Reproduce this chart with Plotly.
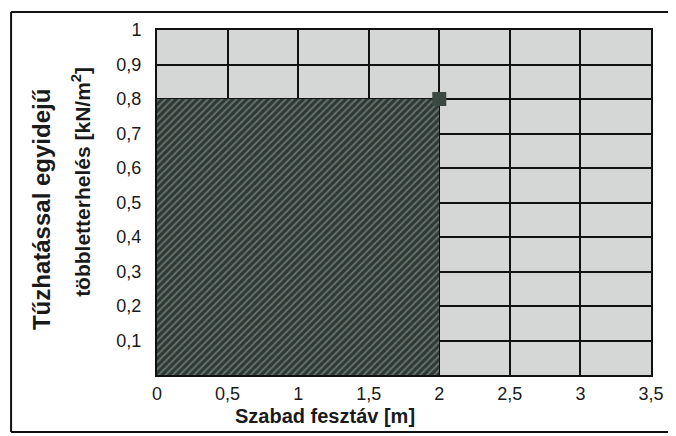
import plotly.graph_objects as go

# Data
span_limit = [2.0]          # m
load_limit = [0.8]          # kN/m2
x_tickvals = [0, 0.5, 1, 1.5, 2, 2.5, 3, 3.5]
x_ticktext = ["0", "0,5", "1", "1,5", "2", "2,5", "3", "3,5"]
y_tickvals = [0.1, 0.2, 0.3, 0.4, 0.5, 0.6, 0.7, 0.8, 0.9, 1.0]
y_ticktext = ["0,1", "0,2", "0,3", "0,4", "0,5", "0,6", "0,7", "0,8", "0,9", "1"]

fig = go.Figure()

fig.add_trace(go.Bar(
    x=[span_limit[0] / 2], y=load_limit, width=span_limit,
    marker=dict(
        color="#2b3833",
        line=dict(width=0),
        pattern=dict(shape="/", fgcolor="#a3aaa6", bgcolor="#2b3833", size=5, solidity=0.4),
    ),
    showlegend=False, hoverinfo="skip",
))

fig.add_trace(go.Scatter(
    x=span_limit, y=load_limit, mode="markers",
    marker=dict(symbol="square", size=14, color="#3b4943"),
    showlegend=False,
))

FONT = "Liberation Sans, Arial, sans-serif"
font_tick = dict(family=FONT, size=18, color="#1a1a1a")

line = dict(color="#111111", width=2)

fig.update_layout(
    width=668, height=428,
    margin=dict(l=149, r=16, t=22, b=61),
    paper_bgcolor="white",
    plot_bgcolor="#d5d7d7",
    bargap=0,
    xaxis=dict(
        range=[0, 3.5], tickvals=x_tickvals, ticktext=x_ticktext,
        showgrid=True, gridcolor="#111111", gridwidth=2,
        zeroline=False, showline=True, linecolor="#111111", linewidth=2, mirror=True,
        ticks="", tickfont=font_tick, ticklabelstandoff=1,
    ),
    yaxis=dict(
        range=[0, 1], tickvals=y_tickvals, ticktext=y_ticktext,
        showgrid=True, gridcolor="#111111", gridwidth=2,
        zeroline=False, showline=True, linecolor="#111111", linewidth=2, mirror=True,
        ticks="", tickfont=font_tick, ticklabelstandoff=10,
    ),
    shapes=[
        dict(type="line", xref="paper", yref="paper", x0=-0.2954, x1=1.05, y0=1.052, y1=1.052, line=line),
        dict(type="line", xref="paper", yref="paper", x0=-0.2954, x1=1.05, y0=-0.165, y1=-0.165, line=line),
        dict(type="line", xref="paper", yref="paper", x0=-0.2954, x1=-0.2954, y0=-0.165, y1=1.052, line=line),
    ],
    annotations=[
        dict(text="<b>Szabad fesztáv [m]</b>", xref="paper", yref="paper",
             x=0.341, y=-0.118, xanchor="center", yanchor="middle", showarrow=False,
             font=dict(family=FONT, size=20, color="#1a1a1a")),
        dict(text="<b>Tűzhatással egyidejű</b>", xref="paper", yref="paper",
             x=-0.2335, y=0.48, xanchor="center", yanchor="middle", textangle=-90, showarrow=False,
             font=dict(family=FONT, size=24, color="#1a1a1a")),
        dict(text="<b>többletterhelés [kN/m<sup>2</sup>]</b>", xref="paper", yref="paper",
             x=-0.1537, y=0.56, xanchor="center", yanchor="middle", textangle=-90, showarrow=False,
             font=dict(family=FONT, size=21, color="#1a1a1a")),
    ],
)

fig.write_html("out.html")
